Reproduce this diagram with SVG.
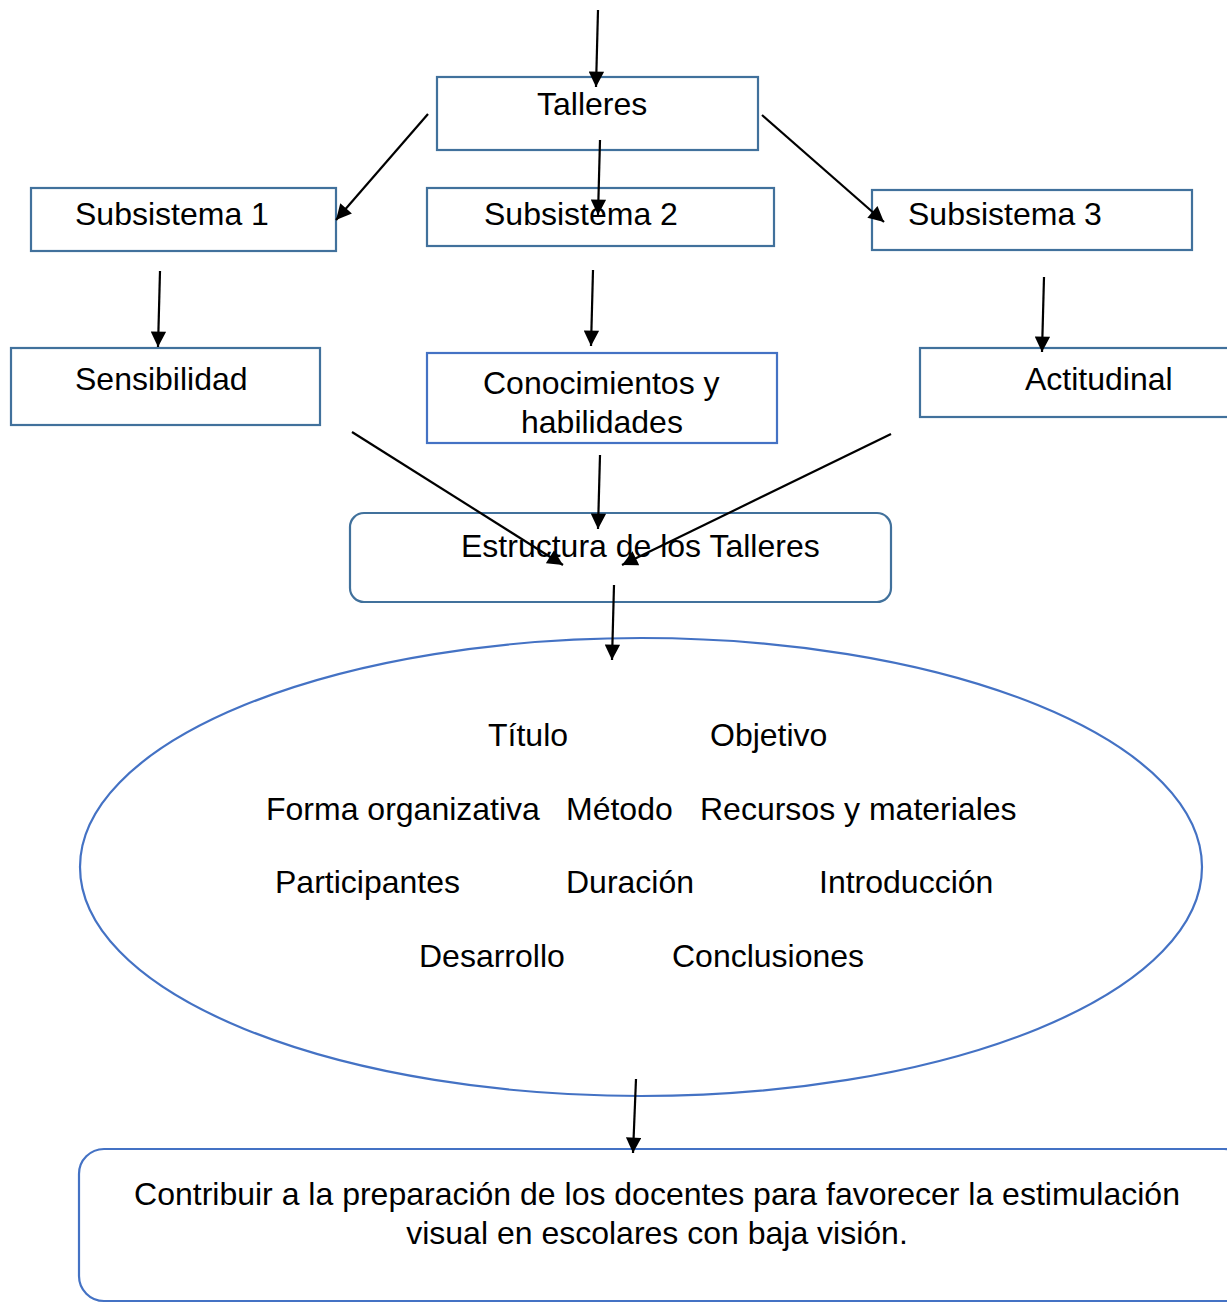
<svg xmlns="http://www.w3.org/2000/svg" width="1227" height="1303" viewBox="0 0 1227 1303">
<defs>
<marker id="ah" viewBox="0 0 10 10" refX="10" refY="5" markerWidth="7.5" markerHeight="7" markerUnits="strokeWidth" orient="auto">
<path d="M0,0 L10,5 L0,10 z" fill="#000"/>
</marker>
<style>
.b1{fill:#fff;stroke:#41719C;stroke-width:2.2}
.b2{fill:#fff;stroke:#4472C4;stroke-width:2.2}
.t{font-family:"Liberation Sans",Arial,sans-serif;font-size:32px;fill:#000}
.c{stroke:#000;stroke-width:2.2;fill:none;marker-end:url(#ah)}
</style>
</defs>
<rect width="1227" height="1303" fill="#fff"/>
<g id="talleres"><rect class="b1" x="437" y="77" width="321" height="73"/><text class="t" x="537" y="115">Talleres</text></g>
<g id="sub1"><rect class="b1" x="31" y="188" width="305" height="63"/><text class="t" x="75" y="225">Subsistema 1</text></g>
<g id="sub2"><rect class="b1" x="427" y="188" width="347" height="58"/><text class="t" x="484" y="225">Subsistema 2</text></g>
<g id="sub3"><rect class="b1" x="872" y="190" width="320" height="60"/><text class="t" x="908" y="225">Subsistema 3</text></g>
<g id="sensibilidad"><rect class="b1" x="11" y="348" width="309" height="77"/><text class="t" x="75" y="390">Sensibilidad</text></g>
<g id="conocimientos"><rect class="b2" x="427" y="353" width="350" height="90"/><text class="t" x="483" y="394">Conocimientos y</text><text class="t" x="521" y="433">habilidades</text></g>
<g id="actitudinal"><rect class="b1" x="920" y="348" width="320" height="69"/><text class="t" x="1025" y="390">Actitudinal</text></g>
<g id="estructura"><rect class="b1" x="350" y="513" width="541" height="89" rx="14"/><text class="t" x="461" y="557">Estructura de los Talleres</text></g>
<g id="componentes"><ellipse class="b2" cx="641" cy="867" rx="561" ry="229"/>
<text class="t" x="488" y="746">Título</text>
<text class="t" x="710" y="746">Objetivo</text>
<text class="t" x="266" y="820">Forma organizativa</text>
<text class="t" x="566" y="820">Método</text>
<text class="t" x="700" y="820">Recursos y materiales</text>
<text class="t" x="275" y="893">Participantes</text>
<text class="t" x="566" y="893">Duración</text>
<text class="t" x="819" y="893">Introducción</text>
<text class="t" x="419" y="967">Desarrollo</text>
<text class="t" x="672" y="967">Conclusiones</text>
</g>
<g id="objetivo"><rect class="b2" x="79" y="1149" width="1170" height="152" rx="25"/>
<text class="t" x="657" y="1205" text-anchor="middle">Contribuir a la preparación de los docentes para favorecer la estimulación</text>
<text class="t" x="657" y="1244" text-anchor="middle">visual en escolares con baja visión.</text>
</g>
<g id="connectors">
<line class="c" x1="598" y1="10" x2="596" y2="87"/>
<line class="c" x1="600" y1="140" x2="598" y2="215"/>
<line class="c" x1="428" y1="114" x2="336" y2="220"/>
<line class="c" x1="762" y1="115" x2="884" y2="222"/>
<line class="c" x1="160" y1="271" x2="158" y2="347"/>
<line class="c" x1="593" y1="270" x2="591" y2="346"/>
<line class="c" x1="1044" y1="277" x2="1042" y2="352"/>
<line class="c" x1="352" y1="432" x2="563" y2="565"/>
<line class="c" x1="600" y1="455" x2="598" y2="529"/>
<line class="c" x1="891" y1="434" x2="622" y2="565"/>
<line class="c" x1="614" y1="585" x2="612" y2="660"/>
<line class="c" x1="636" y1="1079" x2="633" y2="1153"/>
</g>
</svg>
